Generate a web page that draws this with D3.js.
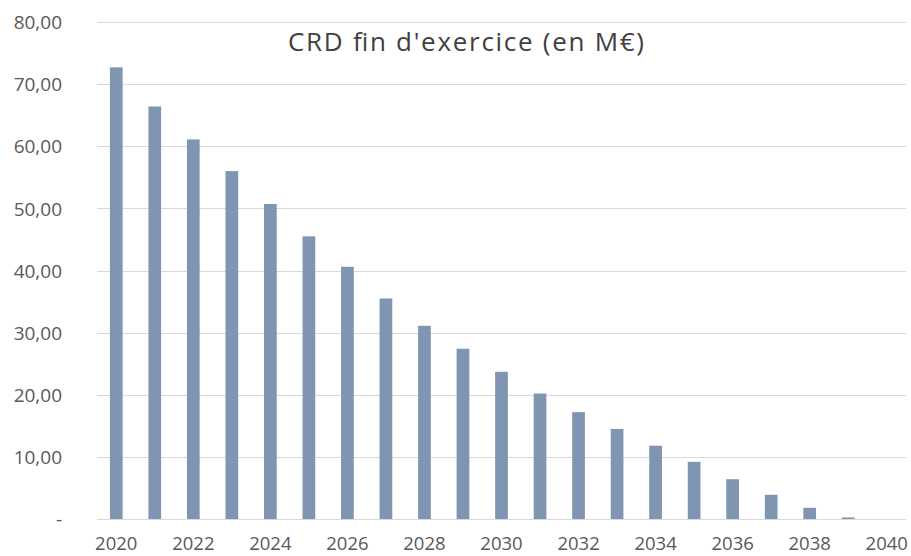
<!DOCTYPE html>
<html>
<head>
<meta charset="utf-8">
<script src="https://cdn.jsdelivr.net/npm/d3@7"></script>
<style>
  html, body { margin: 0; padding: 0; background: #fff; }
  svg { display: block; }
  text { font-family: "Open Sans", "Noto Sans", sans-serif; }
</style>
</head>
<body>
<script>
// Capital restant dû en fin d'exercice, par année
const years = [2020, 2021, 2022, 2023, 2024, 2025, 2026, 2027, 2028, 2029, 2030,
               2031, 2032, 2033, 2034, 2035, 2036, 2037, 2038, 2039, 2040];
const crd = [72.7, 66.4, 61.1, 56.0, 50.7, 45.5, 40.6, 35.5, 31.1, 27.4, 23.7,
             20.2, 17.2, 14.5, 11.8, 9.2, 6.4, 3.9, 1.8, 0.25, 0];
const yTicks = [0, 10, 20, 30, 40, 50, 60, 70, 80];
const xTickYears = [2020, 2022, 2024, 2026, 2028, 2030, 2032, 2034, 2036, 2038, 2040];
const title = "CRD fin d'exercice (en M€)";

const W = 911, H = 556;
const margin = { top: 22, right: 5, bottom: 37, left: 97 };

const svg = d3.select("body").append("svg")
  .attr("width", W).attr("height", H);

const x = d3.scaleBand()
  .domain(years)
  .range([margin.left, W - margin.right])
  .paddingInner(0.67)
  .paddingOuter(0.335);

const y = d3.scaleLinear()
  .domain([0, 80])
  .range([H - margin.bottom, margin.top]);

const fmt = v => v === 0 ? "-" : d3.format(".2f")(v).replace(".", ",");

// Horizontal gridlines
svg.append("g")
  .selectAll("line")
  .data(yTicks)
  .join("line")
  .attr("x1", margin.left)
  .attr("x2", W - margin.right)
  .attr("y1", d => Math.round(y(d)) + 0.5)
  .attr("y2", d => Math.round(y(d)) + 0.5)
  .attr("stroke", "#d9d9d9")
  .attr("stroke-width", 1.2);

// Y axis labels
const yAxis = d3.axisLeft(y).tickValues(yTicks).tickFormat(fmt).tickSize(0).tickPadding(0);
svg.append("g")
  .attr("transform", `translate(${margin.left - 35},0)`)
  .call(yAxis)
  .call(g => g.select(".domain").remove())
  .call(g => g.selectAll("text")
    .attr("fill", "#595959")
    .attr("font-size", "19px")
    .attr("dy", "0.35em"));

// Bars
svg.append("g")
  .selectAll("rect")
  .data(years.map((yr, i) => ({ yr, v: crd[i] })))
  .join("rect")
  .attr("x", d => x(d.yr))
  .attr("width", x.bandwidth())
  .attr("y", d => y(d.v))
  .attr("height", d => y(0) - y(d.v))
  .attr("fill", "#7f95b1");

// X axis labels (every other year)
const xAxis = d3.axisBottom(x).tickValues(xTickYears).tickSize(0).tickPadding(0);
svg.append("g")
  .attr("transform", `translate(0,${H - margin.bottom})`)
  .call(xAxis)
  .call(g => g.select(".domain").remove())
  .call(g => g.selectAll("text")
    .attr("fill", "#595959")
    .attr("font-size", "18.5px")
    .attr("dy", "0")
    .attr("y", 31));

// Title
svg.append("text")
  .attr("x", 466)
  .attr("y", 51)
  .attr("text-anchor", "middle")
  .attr("fill", "#404040")
  .attr("font-size", "26px")
  .attr("textLength", 356)
  .attr("lengthAdjust", "spacing")
  .text(title);
</script>
</body>
</html>
